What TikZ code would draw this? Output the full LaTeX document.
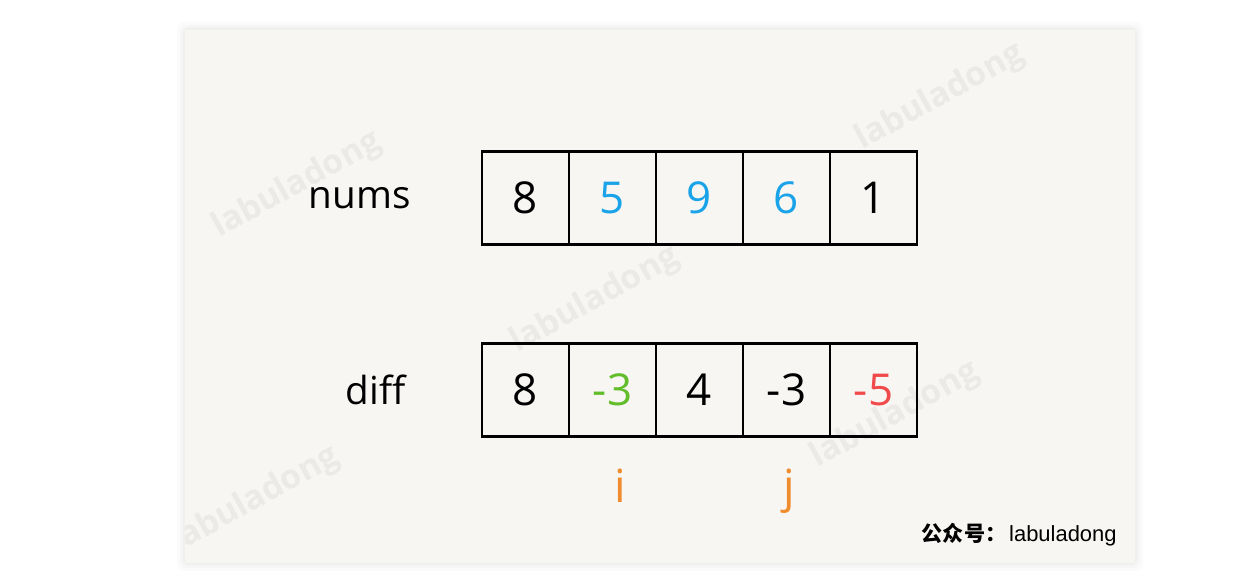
\documentclass[tikz,border=0pt]{standalone}
\usepackage{fontspec}
\setmainfont{Open Sans}
\newfontfamily\footfont{Liberation Sans}
\newfontfamily\cjkfont{Noto Sans CJK SC}
\usetikzlibrary{positioning}
\definecolor{cardbg}{HTML}{F7F6F3}
\definecolor{sblue}{HTML}{1AA3E8}
\definecolor{sgreen}{HTML}{62BD2A}
\definecolor{sred}{HTML}{F04A4A}
\definecolor{sorange}{HTML}{F08C2E}
\definecolor{wmgray}{HTML}{ECEAE6}
\tikzset{
  cell/.style={
    draw=black, line width=1.3pt, minimum width=1.74cm, minimum height=1.86cm,
    inner sep=0pt, font=\fontsize{25}{30}\selectfont
  },
  rowlab/.style={font=\fontsize{22}{26}\selectfont, inner sep=0pt},
  ptr/.style={font=\fontsize{26}{30}\selectfont, text=sorange, inner sep=0pt},
  wmark/.style={font=\fontsize{19}{23}\selectfont\bfseries, text=wmgray, rotate=29}
}
\begin{document}
\begin{tikzpicture}
  \useasboundingbox (0,0) rectangle (24.84,11.58);
  % card with a soft shadow
  \foreach \s/\o in {0.16/0.015,0.1/0.02,0.05/0.025}
    \fill[black, opacity=\o, rounded corners=4pt] (3.7-\s,0.32-\s) rectangle (22.7+\s,10.98+\s);
  \fill[cardbg] (3.7,0.32) rectangle (22.7,10.98);
  % watermarks
  \begin{scope}
    \clip (3.7,0.32) rectangle (22.7,10.98);
    \node[wmark] (wm1) at (5.94,7.88) {labuladong};
    \node[wmark] (wm2) at (18.8,9.64) {labuladong};
    \node[wmark] (wm3) at (11.9,5.58) {labuladong};
    \node[wmark] (wm4) at (17.9,3.28) {labuladong};
    \node[wmark] (wm5) at (5.1,1.58) {labuladong};
  \end{scope}
  % arrays
  \foreach \v/\c [count=\i] in {8/black,5/sblue,9/sblue,6/sblue,1/black}
    \node[cell, text=\c] (n\i) at ({10.51+1.74*(\i-1)},7.62) {\v};
  \foreach \v/\c [count=\i] in {8/black,-3/sgreen,4/black,-3/black,-5/sred}
    \node[cell, text=\c] (d\i) at ({10.51+1.74*(\i-1)},3.78) {\v};
  \node[rowlab, left=1.4cm of n1] (numslab) {nums};
  \node[rowlab, left=1.5cm of d1] (difflab) {diff};
  % pointers
  \node[ptr, below=0.62cm of d2, xshift=0.15cm] (pi) {i};
  \node[ptr, below=0.62cm of d4, xshift=0.05cm] (pj) {j};
  % footer
  \node[anchor=east, inner sep=0pt] (foot) at (22.34,0.88)
    {{\cjkfont\bfseries\fontsize{12}{14}\selectfont 公众号：}\,{\footfont\fontsize{12.5}{15}\selectfont labuladong}};
\end{tikzpicture}
\end{document}
